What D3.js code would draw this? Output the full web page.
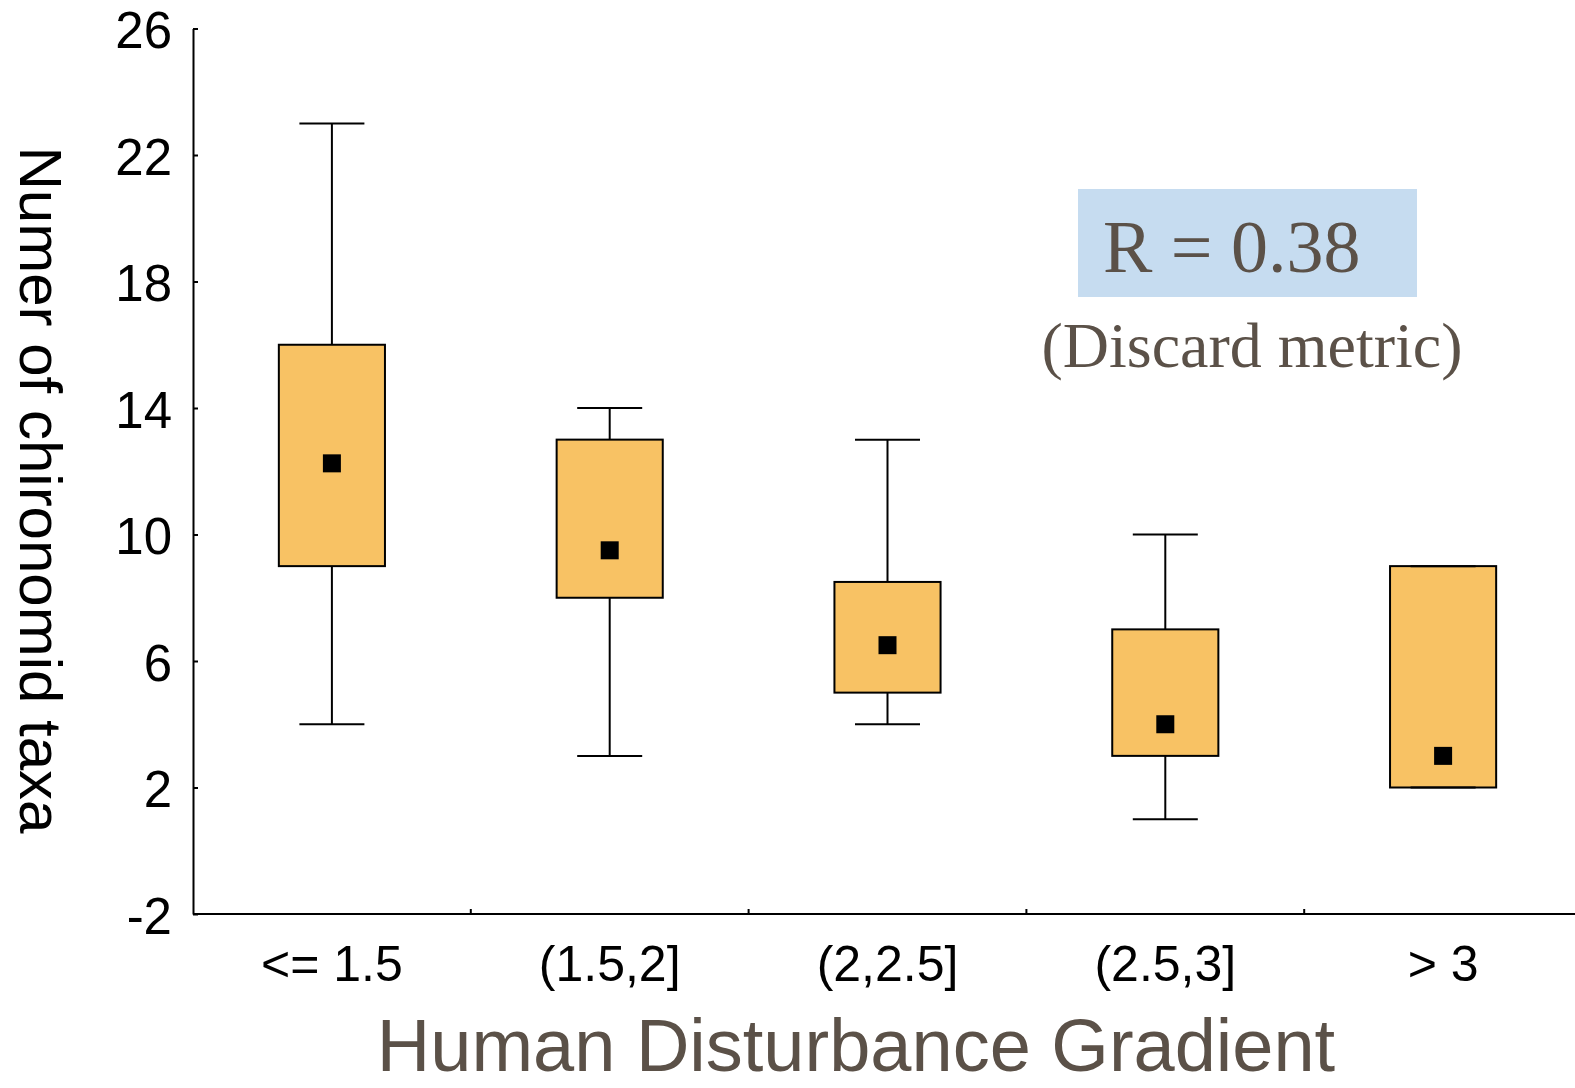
<!DOCTYPE html>
<html>
<head>
<meta charset="utf-8">
<script src="https://cdn.jsdelivr.net/npm/d3@7"></script>
<style>
  html, body { margin: 0; padding: 0; background: #fff; }
  svg { display: block; }
</style>
</head>
<body>
<svg id="chart" width="1575" height="1088"></svg>
<script>
// Disturbance classes and the box-plot statistics of chironomid taxa counts
const categories = ["<= 1.5", "(1.5,2]", "(2,2.5]", "(2.5,3]", "> 3"];
const whiskerMin = [4, 3, 4, 1, 2];
const boxLow     = [9, 8, 5, 3, 2];
const boxHigh    = [16, 13, 8.5, 7, 9];
const whiskerMax = [23, 14, 13, 10, 9];
const centerVal  = [12.25, 9.5, 6.5, 4, 3];
const yTicks = [-2, 2, 6, 10, 14, 18, 22, 26];

const data = categories.map((c, i) => ({
  cat: c, min: whiskerMin[i], q1: boxLow[i], q3: boxHigh[i], max: whiskerMax[i], mid: centerVal[i]
}));

const svg = d3.select("#chart");
const plotLeft = 193, plotRight = 1582, plotTop = 28.5, plotBottom = 914;

const x = d3.scaleBand().domain(categories).range([plotLeft, plotRight]).paddingInner(0).paddingOuter(0);
const y = d3.scaleLinear().domain([-2, 26]).range([plotBottom, plotTop]);

const boxW = x.bandwidth() * 0.382;
const capW = x.bandwidth() * 0.234;
const markSize = 18;

// Y axis: inward ticks, plain hyphen for negatives
const yAxis = svg.append("g")
  .attr("transform", `translate(${plotLeft},0)`)
  .call(d3.axisLeft(y).tickValues(yTicks).tickFormat(d => String(d))
    .tickSizeInner(-5).tickSizeOuter(0).tickPadding(21));
yAxis.select(".domain").attr("stroke", "#000").attr("stroke-width", 2);
yAxis.selectAll(".tick line").attr("stroke", "#000").attr("stroke-width", 2);
yAxis.selectAll(".tick text")
  .attr("font-family", "'Liberation Sans', Arial, sans-serif")
  .attr("font-size", 51)
  .attr("fill", "#000")
  .attr("dy", "0.38em");

// X axis: labels centred in each class, small inward ticks at class boundaries
const xAxis = svg.append("g")
  .attr("transform", `translate(0,${plotBottom})`)
  .call(d3.axisBottom(x).tickSize(0).tickPadding(0));
xAxis.select(".domain").attr("stroke", "#000").attr("stroke-width", 2)
  .attr("d", `M${plotLeft},0H${plotRight}`);
xAxis.selectAll(".tick text")
  .attr("font-family", "'Liberation Sans', Arial, sans-serif")
  .attr("font-size", 50)
  .attr("fill", "#000")
  .attr("dy", "0")
  .attr("y", 67);

svg.append("g").selectAll("line")
  .data(categories.slice(1))
  .join("line")
  .attr("x1", d => x(d)).attr("x2", d => x(d))
  .attr("y1", plotBottom).attr("y2", plotBottom - 5)
  .attr("stroke", "#000").attr("stroke-width", 2);

// Boxes
const g = svg.append("g").selectAll("g").data(data).join("g")
  .attr("transform", d => `translate(${x(d.cat) + x.bandwidth() / 2},0)`);

// whisker stems
g.append("line")
  .attr("x1", 0).attr("x2", 0)
  .attr("y1", d => y(d.max)).attr("y2", d => y(d.q3))
  .attr("stroke", "#000").attr("stroke-width", 2);
g.append("line")
  .attr("x1", 0).attr("x2", 0)
  .attr("y1", d => y(d.q1)).attr("y2", d => y(d.min))
  .attr("stroke", "#000").attr("stroke-width", 2);

// box
g.append("rect")
  .attr("x", -boxW / 2)
  .attr("width", boxW)
  .attr("y", d => y(d.q3))
  .attr("height", d => y(d.q1) - y(d.q3))
  .attr("fill", "#f8c264")
  .attr("stroke", "#000")
  .attr("stroke-width", 2);

// caps
g.append("line")
  .attr("x1", -capW / 2).attr("x2", capW / 2)
  .attr("y1", d => y(d.max)).attr("y2", d => y(d.max))
  .attr("stroke", "#000").attr("stroke-width", 2);
g.append("line")
  .attr("x1", -capW / 2).attr("x2", capW / 2)
  .attr("y1", d => y(d.min)).attr("y2", d => y(d.min))
  .attr("stroke", "#000").attr("stroke-width", 2);

// central marker
g.append("rect")
  .attr("x", -markSize / 2)
  .attr("y", d => y(d.mid) - markSize / 2)
  .attr("width", markSize)
  .attr("height", markSize)
  .attr("fill", "#000");

// Axis titles
svg.append("text")
  .attr("transform", "translate(20,490) rotate(90)")
  .attr("text-anchor", "middle")
  .attr("font-family", "'Liberation Sans', Arial, sans-serif")
  .attr("font-size", 60)
  .attr("fill", "#000")
  .text("Numer of chironomid taxa");

svg.append("text")
  .attr("x", 856)
  .attr("y", 1071)
  .attr("text-anchor", "middle")
  .attr("font-family", "'Liberation Sans', Arial, sans-serif")
  .attr("font-size", 74)
  .attr("fill", "#5b5148")
  .text("Human Disturbance Gradient");

// Correlation note
svg.append("rect")
  .attr("x", 1078).attr("y", 189)
  .attr("width", 339).attr("height", 108)
  .attr("fill", "#c6dcf0");
svg.append("text")
  .attr("x", 1103).attr("y", 272)
  .attr("font-family", "'Liberation Serif', 'Times New Roman', serif")
  .attr("font-size", 74)
  .attr("fill", "#5b5148")
  .text("R = 0.38");
svg.append("text")
  .attr("x", 1252).attr("y", 367)
  .attr("text-anchor", "middle")
  .attr("font-family", "'Liberation Serif', 'Times New Roman', serif")
  .attr("font-size", 64)
  .attr("fill", "#5b5148")
  .text("(Discard metric)");
</script>
</body>
</html>
